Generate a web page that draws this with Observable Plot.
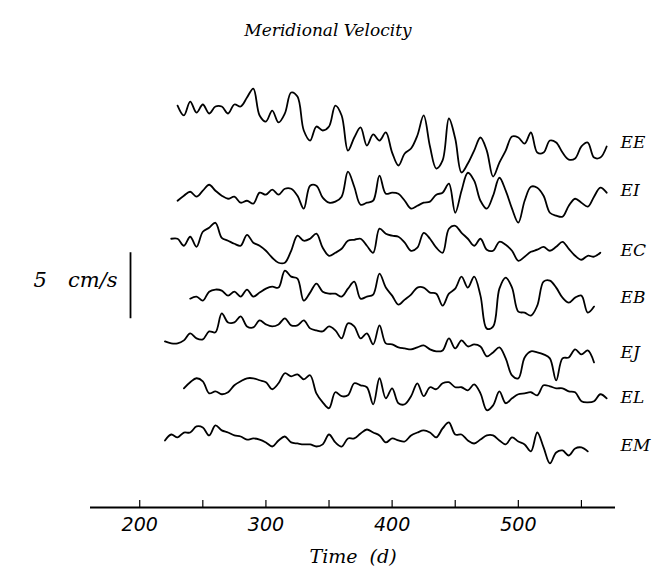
<!DOCTYPE html>
<html>
<head>
<meta charset="utf-8">
<script src="https://cdn.jsdelivr.net/npm/d3@7"></script>
<script src="https://cdn.jsdelivr.net/npm/@observablehq/plot@0.6"></script>
<style>
  html, body { margin: 0; padding: 0; background: #fff; }
  #title { height: 50px; box-sizing: border-box; padding-top: 20px; line-height: 20px;
           text-align: center; font-family: "DejaVu Serif", serif; font-style: italic; font-size: 17px; color: #000; }
  #chart svg { display: block; }
</style>
</head>
<body>
<div id="title">Meridional Velocity</div>
<div id="chart"></div>
<script>
// ---------- data (meridional velocity anomalies, cm/s) ----------
const days = [215,220,225,230,235,240,245,250,255,260,265,270,275,280,285,290,295,300,305,310,315,320,325,330,335,340,345,350,355,360,365,370,375,380,385,390,395,400,405,410,415,420,425,430,435,440,445,450,455,460,465,470,475,480,485,490,495,500,505,510,515,520,525,530,535,540,545,550,555,560,565,570];

const names = ["EE","EI","EC","EB","EJ","EL","EM"];
const startDay = [230, 230, 225, 240, 220, 235, 220];

const EE = [2.8,2.05,3.1,2.27,2.88,2.2,2.73,2.73,2.2,2.88,2.73,3.41,4.09,2.05,1.59,2.42,1.52,2.2,3.79,3.48,0.91,0.15,1.21,0.91,1.21,2.8,2.05,-0.61,0.38,1.14,-0.23,0.61,0.15,0.76,-0.76,-1.74,-0.83,-0.45,0.53,2.05,-0.3,-1.97,-1.36,1.82,0.3,-2.27,-1.59,-0.61,0.38,-0.61,-2.58,-1.52,-0.61,0.45,0.38,-0.08,0.76,-0.76,-0.76,0.15,0,-0.76,-1.29,-1.21,-0.3,0,-1.14,-1.14,-0.3];
const EI = [-0.76,-0.38,-0.08,-0.45,0,0.45,0,-0.38,-0.61,-0.45,-0.91,-0.76,-0.98,-0.15,-0.3,0.08,-0.3,0.15,0.15,-0.38,-1.36,0.38,0.38,-0.53,-0.91,-0.83,-0.45,1.44,0.3,-1.06,-0.91,-0.76,1.14,-0.23,-0.15,-0.23,-0.76,-1.36,-1.14,-0.91,-0.83,-0.3,-0.15,0.53,-1.67,0,1.36,0.76,-0.76,-1.36,-0.38,0.98,0,-1.36,-2.42,-0.76,0.3,0.23,-0.38,-1.67,-1.89,-1.97,-1.14,-0.61,-0.91,-1.21,-0.45,0.23,-0.15];
const EC = [0.91,0.91,0.38,1.06,0.3,1.44,1.74,2.12,0.98,0.76,0.53,0.38,1.21,0.61,0.38,0,-0.53,-0.91,-0.91,0,1.14,0.76,0.91,1.29,0.23,-0.38,-0.15,0.15,0.76,0.83,0.91,0.38,-0.15,1.67,1.29,1.14,1.06,0.61,0,0.23,1.36,0.91,0.23,-0.15,1.67,1.89,1.36,0.91,0.38,0.91,0.08,0,0.68,0.45,0,-0.76,-0.45,-0.08,0.08,0.3,0,0.3,0.68,0.15,-0.38,-0.68,-0.38,-0.45,-0.15];
const EB = [-0.08,0.08,-0.23,0.45,0.61,0.53,0.15,0.45,0.08,0.61,0.08,0.38,0.68,0.83,0.76,2.05,1.59,1.44,-0.23,0.38,1.06,0.45,0.3,0.3,0.08,0.68,1.21,-0.08,0.08,0.23,1.82,0.76,0.15,-0.53,-0.15,0.23,0.76,0.76,0.38,0.3,-0.61,0.3,0.68,1.59,0.76,1.59,0.15,-2.35,-2.2,0.68,1.52,0.76,-1.06,-1.14,-1.36,-0.61,1.21,1.29,0.76,0,-0.38,0,0.15,-1.14,-0.68];
const EJ = [0.83,0.68,0.68,0.91,1.44,1.06,0.98,1.59,1.52,2.95,2.27,2.27,2.73,1.97,1.89,2.42,2.12,1.97,2.12,2.58,2.05,2.05,2.42,1.82,1.67,1.59,1.97,1.67,1.06,2.2,1.97,1.06,1.44,0.61,2.05,0.68,0.61,0.38,0.3,0.23,0.38,0.53,0.23,0.08,0.15,1.06,0.3,0.91,0.45,0.61,0.45,-0.3,0,0.38,-0.45,-1.74,-1.97,-0.38,0.08,0,-0.15,-0.45,-2.12,-0.45,-0.38,0.23,-0.15,0.15,-0.76];
const EL = [0.68,1.14,1.44,1.21,0.3,0.45,0.23,0.38,0.91,1.21,1.44,1.44,1.29,1.14,0.61,1.06,1.82,1.59,1.74,1.36,1.67,0.3,-0.38,-0.83,0.38,0.08,0.15,1.06,0.91,0.76,-0.53,1.44,-0.08,0.68,-0.45,-0.53,0.08,1.06,0.08,0.76,0.61,1.06,1.14,0.76,0.76,0.53,0.98,0.3,-0.98,-0.61,0.45,-0.45,-0.08,0.23,0.3,0.38,0.15,0.91,0.83,0.68,0.68,0.45,0.38,-0.3,-0.38,-0.3,0.23,-0.08];
const EM = [0.38,0.83,0.61,0.98,0.98,1.44,1.36,0.76,1.52,1.14,0.98,0.76,0.68,0.45,0.53,0.45,0.23,-0.08,0.38,0.68,0.23,0.15,0.08,0.08,-0.08,0.08,0.83,0.23,-0.08,0.53,0.53,0.91,1.21,0.98,0.76,0.23,0.53,0.38,0.3,0.76,0.98,1.14,0.98,0.61,1.29,1.74,0.83,0.83,0.38,0.15,0.45,0.76,0.76,0.38,0.08,0.61,0.3,0.08,-0.45,0.98,-0.15,-1.36,-0.53,-0.38,-0.76,-0.23,-0.15,-0.45];

const series = [EE, EI, EC, EB, EJ, EL, EM];

const xTicks = [200,250,300,350,400,450,500,550];
const xTickLabels = [200,300,400,500];
const scaleBar = {cm: 5, label: "5\u2003cm/s"};

// ---------- layout (stacking offsets in cm/s, scale bar placement) ----------
const traceOffset = [27.65, 24.0, 19.45, 15.9, 11.75, 8.35, 4.7];
const pxPerCm = 13.2;
const plotH = 524, marginBottom = 67;
const yTop = (plotH - marginBottom) / pxPerCm;
const sbDay = 192.7, sbBase = 14.3;

const rows = [];
series.forEach((vals, s) => {
  const i0 = days.indexOf(startDay[s]);
  vals.forEach((v, j) => rows.push({name: names[s], day: days[i0 + j], y: v + traceOffset[s]}));
});

const serif = "DejaVu Serif, serif";
const chart = Plot.plot({
  width: 656, height: plotH,
  marginLeft: 90, marginRight: 41, marginTop: 0, marginBottom,
  style: {background: "#fff", color: "#000", whiteSpace: "pre"},
  x: {domain: [161, 577], axis: null},
  y: {domain: [0, yTop], axis: null},
  marks: [
    Plot.line(rows, {x: "day", y: "y", z: "name", stroke: "#000", strokeWidth: 1.8, curve: "catmull-rom"}),
    Plot.text(names, {y: (d, i) => traceOffset[i], text: d => d, frameAnchor: "right", textAnchor: "start", dx: 5,
      fontFamily: serif, fontStyle: "italic", fontSize: 17, fill: "#000"}),
    Plot.ruleY([0], {stroke: "#000", strokeWidth: 2}),
    Plot.ruleX(xTicks, {x: d => d, y1: 0, y2: 7 / pxPerCm, stroke: "#000", strokeWidth: 1.2}),
    Plot.text(xTickLabels, {x: d => d, y: 0, dy: 17, text: d => String(d), fontFamily: "DejaVu Sans, sans-serif",
      fontStyle: "italic", fontSize: 19, fill: "#000"}),
    Plot.text(["Time (d)"], {frameAnchor: "bottom", dy: 55, text: d => d.replace(" ", "  "), fontFamily: serif,
      fontStyle: "italic", fontSize: 19, fill: "#000"}),
    Plot.ruleX([sbDay], {x: d => d, y1: sbBase, y2: sbBase + scaleBar.cm, stroke: "#000", strokeWidth: 1.8}),
    Plot.text([scaleBar.label], {x: sbDay, y: sbBase + 2.9, dx: -13, textAnchor: "end", text: d => d,
      fontFamily: serif, fontStyle: "italic", fontSize: 21, fill: "#000"})
  ]
});
document.getElementById("chart").appendChild(chart);
</script>
</body>
</html>
